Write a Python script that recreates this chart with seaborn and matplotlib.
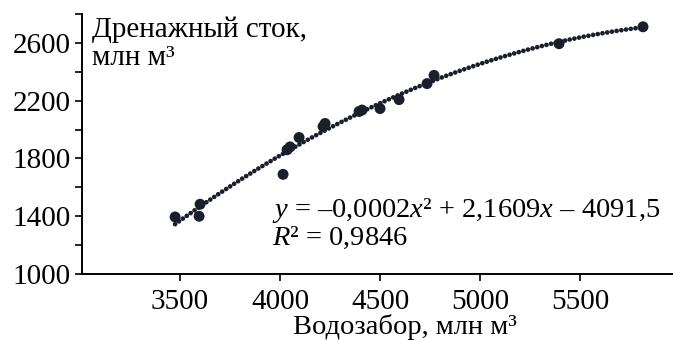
import matplotlib
matplotlib.use("Agg")
import matplotlib.pyplot as plt
import seaborn as sns
import numpy as np
import pandas as pd
from matplotlib.ticker import MultipleLocator

# Data
water_intake = [3475, 3595, 3600, 4015, 4035, 4050, 4095, 4215, 4225, 4395, 4410, 4500, 4595, 4735, 4770, 5395, 5815]
drainage = [1395, 1400, 1483, 1690, 1860, 1880, 1945, 2021, 2042, 2125, 2135, 2145, 2207, 2318, 2375, 2594, 2711]
x_ticks = [3500, 4000, 4500, 5000, 5500]
y_ticks = [1000, 1400, 1800, 2200, 2600]

df = pd.DataFrame({"x": water_intake, "y": drainage})

sns.set_theme(style="ticks")
plt.rcParams["font.family"] = ["Liberation Serif", "DejaVu Serif"]
plt.rcParams["mathtext.fontset"] = "custom"
plt.rcParams["mathtext.rm"] = "Liberation Serif"
plt.rcParams["mathtext.it"] = "Liberation Serif:italic"

fig = plt.figure(figsize=(6.73, 3.40), dpi=100)
ax = fig.add_axes([0.122, 0.194, 0.878, 0.765])

color = "#1b1e2b"
sns.regplot(data=df, x="x", y="y", order=2, ci=None, ax=ax,
            scatter_kws=dict(s=62, color=color, edgecolor="none", alpha=1, zorder=3),
            line_kws=dict(color=color, lw=3.4, ls=(0, (0.01, 1.0)), dash_capstyle="round",
                          solid_capstyle="round", zorder=2))

ax.set_xlim(3010, 5965)
ax.set_ylim(1000, 2800)
ax.set_xticks(x_ticks)
ax.set_yticks(y_ticks)
ax.yaxis.set_minor_locator(MultipleLocator(200))
ax.tick_params(axis="both", which="major", labelsize=21, length=5, width=1.2, color="black", labelcolor="black", direction="out")
ax.tick_params(axis="x", which="major", pad=6)
ax.tick_params(axis="y", which="minor", length=5, width=1.2, color="black", direction="out")
for s in ["top", "right"]:
    ax.spines[s].set_visible(False)
for s in ["left", "bottom"]:
    ax.spines[s].set_linewidth(1.4)
    ax.spines[s].set_color("black")

ax.set_xlabel("Водозабор, млн м³", fontsize=20.5, color="black")
ax.xaxis.set_label_coords(0.547, -0.155)
ax.set_ylabel("")

ax.text(0.017, 0.912, "Дренажный сток,", transform=ax.transAxes, ha="left", va="baseline",
        fontsize=21, color="black")
ax.text(0.017, 0.804, "млн м³", transform=ax.transAxes, ha="left", va="baseline",
        fontsize=21, color="black")
ax.text(0.321, 0.219, "$y$ = –0,0002$x$² + 2,1609$x$ – 4091,5", transform=ax.transAxes,
        ha="left", va="baseline", fontsize=20.5, color="black")
ax.text(0.321, 0.112, "$R$² = 0,9846", transform=ax.transAxes,
        ha="left", va="baseline", fontsize=20.5, color="black")

fig.savefig("out.png", dpi=100)
